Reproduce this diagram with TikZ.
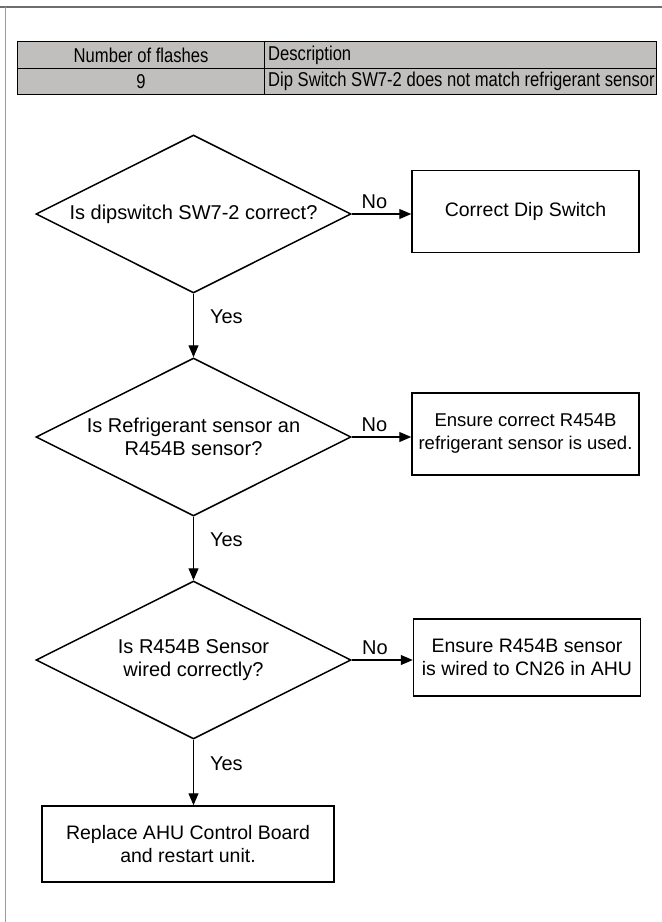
\documentclass[tikz,border=0pt]{standalone}
\usepackage{fontspec}
\setmainfont{Liberation Sans}
\newfontfamily\tabfont[FakeStretch=0.83]{Liberation Sans}
\usetikzlibrary{arrows.meta,shapes.geometric,positioning}
\definecolor{tabgray}{RGB}{192,191,189}
\definecolor{framegray}{RGB}{110,110,110}

\tikzset{
  decision/.style={draw,line width=1.5pt,shape=diamond,aspect=2,inner sep=0pt,
    minimum width=315pt,minimum height=158pt,align=center,
    font=\fontsize{20}{23.5}\selectfont},
  action/.style={draw,line width=1.5pt,rectangle,minimum width=227pt,
    minimum height=82pt,align=center,font=\fontsize{19.5}{23.5}\selectfont},
  flow/.style={line width=1.1pt,-{Triangle[length=12pt,width=10pt]}},
  cell/.style={draw,line width=1.2pt,fill=tabgray,rectangle,inner sep=0pt,
    anchor=north west,font=\tabfont\fontsize{20}{22}\selectfont},
  celltext/.style={anchor=west,inner sep=0pt,xshift=4pt,font=\tabfont\fontsize{20}{22}\selectfont},
  lbl/.style={font=\fontsize{20}{23.5}\selectfont,inner sep=2pt}
}

\begin{document}
\begin{tikzpicture}[x=1pt,y=-1pt]
  \useasboundingbox (0,0) rectangle (662,922);
  \draw[line width=2.6pt,framegray] (0,7) -- (662,7);
  \draw[line width=1pt,framegray!70] (5,7) -- (5,922);

  \node[cell,minimum width=247pt,minimum height=27.3pt] (numhead) at (17,40.7) {Number of flashes};
  \node[cell,minimum width=392pt,minimum height=27.3pt] (deschead) at (264,40.7) {};
  \node[celltext] (desctitle) at (deschead.west) {Description};
  \node[cell,minimum width=247pt,minimum height=26pt] (numval) at (17,68) {9};
  \node[cell,minimum width=392pt,minimum height=26pt] (descval) at (264,68) {};
  \node[celltext] (desctext) at (descval.west) {Dip Switch SW7-2 does not match refrigerant sensor};

  \node[decision] (q1) at (193.5,214) {Is dipswitch SW7-2 correct?};
  \node[action] (fix1) at (525.5,211.5) {Correct Dip Switch};
  \node[decision] (q2) at (193.5,437) {Is Refrigerant sensor an\\R454B sensor?};
  \node[action,font=\fontsize{18.5}{23}\selectfont] (fix2) at (525.5,434) {Ensure correct R454B\\refrigerant sensor is used.};
  \node[decision] (q3) at (193.5,660) {Is R454B Sensor\\wired correctly?};
  \node[action,minimum height=77pt] (fix3) at (527,657.5) {Ensure R454B sensor\\is wired to CN26 in AHU};
  \node[action,minimum width=292pt,minimum height=76pt] (done) at (188,844) {Replace AHU Control Board\\and restart unit.};

  \draw[flow] (q1.east) -- node[lbl,above=3pt,pos=0.38] {No} (q1.east -| fix1.west);
  \draw[flow] (q2.east) -- node[lbl,above=3pt,pos=0.38] {No} (q2.east -| fix2.west);
  \draw[flow] (q3.east) -- node[lbl,above=3pt,pos=0.38] {No} (q3.east -| fix3.west);
  \draw[flow] (q1.south) -- node[lbl,right=14pt,pos=0.36] {Yes} (q2.north);
  \draw[flow] (q2.south) -- node[lbl,right=14pt,pos=0.36] {Yes} (q3.north);
  \draw[flow] (q3.south) -- node[lbl,right=14pt,pos=0.36] {Yes} (q3.south |- done.north);
\end{tikzpicture}
\end{document}
